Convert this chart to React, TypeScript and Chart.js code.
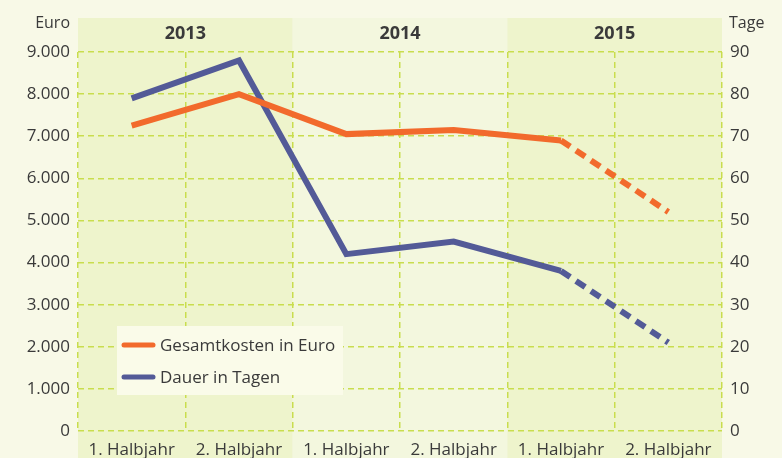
import React, { useEffect, useRef } from "react";
import { Chart, registerables } from "chart.js";

Chart.register(...registerables);

const categories = ["1. Halbjahr", "2. Halbjahr", "1. Halbjahr", "2. Halbjahr", "1. Halbjahr", "2. Halbjahr"];
const years = ["2013", "2014", "2015"];
const kostenEuro = [7250, 8000, 7050, 7150, 6900, 5200];
const dauerTage = [79, 88, 42, 45, 38, 21];
const seriesLabels = ["Gesamtkosten in Euro", "Dauer in Tagen"];

const FONT = "'Open Sans', 'Noto Sans', sans-serif";
const TEXT = "#3a3a3a";
const ORANGE = "#f26a2c";
const BLUE = "#535a97";
const GRID = "#c9dd4e";
const BG = "#f8f9e7";
const BAND_DARK = "#eef4cc";
const BAND_LIGHT = "#f3f7de";

const fmt = (v: number) => String(v).replace(/\B(?=(\d{3})+(?!\d))/g, ".");

const decor = {
  id: "decor",
  beforeDraw(chart: any) {
    const { ctx, chartArea, width, height } = chart;
    ctx.save();
    ctx.fillStyle = BG;
    ctx.fillRect(0, 0, width, height);
    const step = (chartArea.right - chartArea.left) / years.length;
    years.forEach((y, i) => {
      ctx.fillStyle = i % 2 === 0 ? BAND_DARK : BAND_LIGHT;
      ctx.fillRect(chartArea.left + i * step, 18, step, height - 18);
    });
    ctx.restore();
  },
  afterDraw(chart: any) {
    const { ctx, chartArea } = chart;
    ctx.save();
    const step = (chartArea.right - chartArea.left) / years.length;
    ctx.fillStyle = TEXT;
    ctx.textAlign = "center";
    ctx.textBaseline = "middle";
    ctx.font = `bold 18px ${FONT}`;
    years.forEach((y, i) => {
      ctx.fillText(y, chartArea.left + (i + 0.5) * step, 34);
    });
    ctx.font = `16px ${FONT}`;
    ctx.textAlign = "right";
    ctx.fillText("Euro", 70, 23);
    ctx.textAlign = "left";
    ctx.fillText("Tage", 729, 23);

    const lx = 117, ly = 326, lw = 226, lh = 69;
    ctx.fillStyle = "#fafbe9";
    ctx.fillRect(lx, ly, lw, lh);
    const cols = [ORANGE, BLUE];
    ctx.font = `17px ${FONT}`;
    seriesLabels.forEach((lab, i) => {
      const yy = ly + 19 + i * 32;
      ctx.strokeStyle = cols[i];
      ctx.lineWidth = 5;
      ctx.lineCap = "round";
      ctx.beginPath();
      ctx.moveTo(124, yy);
      ctx.lineTo(153, yy);
      ctx.stroke();
      ctx.fillStyle = TEXT;
      ctx.textAlign = "left";
      ctx.textBaseline = "middle";
      ctx.fillText(lab, 160, yy + 1);
    });
    ctx.restore();
  },
};

const dashed = (ctx: any) => (ctx.p0DataIndex === 4 ? [11, 7] : undefined);

export default function App() {
  const ref = useRef<HTMLCanvasElement | null>(null);
  useEffect(() => {
    document.body.style.margin = "0";
    const chart = new Chart(ref.current as HTMLCanvasElement, {
      type: "line",
      data: {
        labels: categories,
        datasets: [
          {
            label: seriesLabels[0],
            data: kostenEuro,
            borderColor: ORANGE,
            borderWidth: 6,
            pointRadius: 0,
            tension: 0,
            yAxisID: "y",
            segment: { borderDash: dashed },
          },
          {
            label: seriesLabels[1],
            data: dauerTage,
            borderColor: BLUE,
            borderWidth: 6,
            pointRadius: 0,
            tension: 0,
            yAxisID: "y1",
            segment: { borderDash: dashed },
          },
        ],
      },
      options: {
        animation: false,
        responsive: false,
        layout: { padding: { top: 52, left: 0, right: 0, bottom: 0 } },
        plugins: { legend: { display: false }, tooltip: { enabled: false } },
        scales: {
          x: {
            offset: true,
            grid: { offset: true, color: GRID, lineWidth: 1.5, drawTicks: false },
            border: { display: false, dash: [6, 4] },
            ticks: { color: TEXT, font: { family: FONT, size: 17 }, padding: 9, maxRotation: 0, autoSkip: false },
            afterFit: (s: any) => { s.height = 27; },
          },
          y: {
            position: "left",
            min: 0,
            max: 9000,
            grid: { color: GRID, lineWidth: 1.5, drawTicks: false },
            border: { display: false, dash: [6, 4] },
            ticks: { stepSize: 1000, color: TEXT, font: { family: FONT, size: 17 }, padding: 8, callback: (v: any) => fmt(v) },
            afterFit: (s: any) => { s.width = 78; },
          },
          y1: {
            position: "right",
            min: 0,
            max: 90,
            grid: { display: false, drawTicks: false },
            border: { display: false },
            ticks: { stepSize: 10, color: TEXT, font: { family: FONT, size: 17 }, padding: 8 },
            afterFit: (s: any) => { s.width = 60; },
          },
        },
      },
      plugins: [decor],
    });
    return () => chart.destroy();
  }, []);
  return (
    <div style={{ width: 782, height: 458 }}>
      <canvas ref={ref} width={782} height={458} style={{ display: "block" }} />
    </div>
  );
}
